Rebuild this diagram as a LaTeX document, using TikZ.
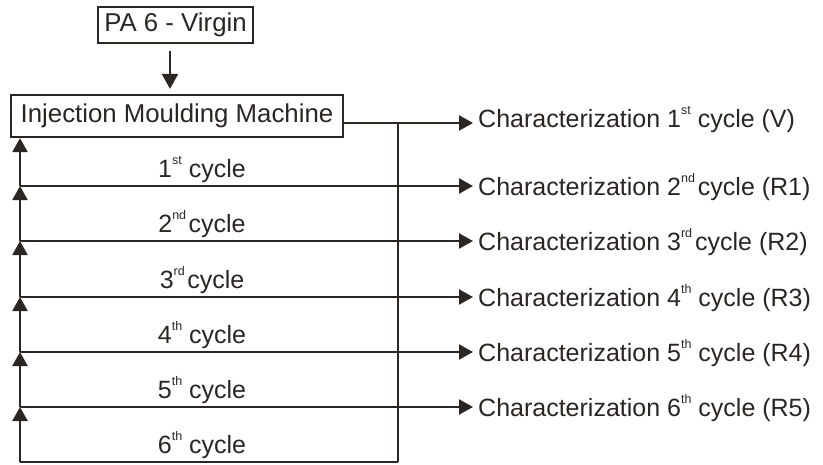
\documentclass[tikz,border=0pt]{standalone}
\usepackage{fontspec}
\setmainfont{Liberation Sans}
\usetikzlibrary{arrows.meta}
\definecolor{ink}{HTML}{2B2622}
\newcommand\sps[1]{\raisebox{0.52em}{\fontsize{12.5}{12.5}\selectfont #1}}
\begin{document}
\begin{tikzpicture}[x=1pt,y=-1pt,
 line/.style={line width=2.2pt, draw=ink},
 arr/.style={line, -{Triangle[length=14pt,width=15pt]}},
 box/.style={draw=ink, line width=2.2pt, inner sep=0pt, text=ink, font=\fontsize{25.8}{30}\selectfont},
 txt/.style={font=\fontsize{25}{30}\selectfont, inner sep=0pt, text=ink},
]
\useasboundingbox[fill=white] (0,0) rectangle (823,464);
\node[box, minimum width=155pt, minimum height=36pt] (pa) at (175.5,25) {PA 6 - Virgin};
\node[box, minimum width=332pt, minimum height=42pt] (imm) at (177,116) {Injection Moulding Machine};
\coordinate (xa) at (170,0);
\draw[arr, shorten <=7pt, shorten >=5pt, -{Triangle[length=15pt,width=16pt]}] (pa.south -| xa) -- (imm.north -| xa);
% grid coordinates
\coordinate (r0) at (398,123);
\foreach \i/\y in {1/186,2/241,3/297,4/352,5/407,6/462}{
  \coordinate (l\i) at (20,\y);
  \coordinate (r\i) at (398,\y);
}
% labels
\node[txt, anchor=base west] (c0) at (478,127) {Characterization 1\sps{st} cycle (V)};
\node[txt, anchor=base west] (c1) at (478,195) {Characterization 2\sps{nd}\hspace{0.12em}cycle (R1)};
\node[txt, anchor=base west] (c2) at (478,250) {Characterization 3\sps{rd}\hspace{0.12em}cycle (R2)};
\node[txt, anchor=base west] (c3) at (478,306) {Characterization 4\sps{th} cycle (R3)};
\node[txt, anchor=base west] (c4) at (478,361) {Characterization 5\sps{th} cycle (R4)};
\node[txt, anchor=base west] (c5) at (478,416) {Characterization 6\sps{th} cycle (R5)};
\node[txt, anchor=base] (k1) at (202,177) {1\sps{st} cycle};
\node[txt, anchor=base] (k2) at (202,232) {2\sps{nd}\hspace{0.1em}cycle};
\node[txt, anchor=base] (k3) at (202,288) {3\sps{rd}\hspace{0.1em}cycle};
\node[txt, anchor=base] (k4) at (202,343) {4\sps{th} cycle};
\node[txt, anchor=base] (k5) at (202,398) {5\sps{th} cycle};
\node[txt, anchor=base] (k6) at (202,453) {6\sps{th} cycle};
% lines
\draw[line] (imm.east |- r0) -- (r0) -- (r6);
\foreach \i in {1,...,6}{ \draw[line] (l\i) -- (r\i); }
% left up arrows
\draw[arr] (l6) -- (l5);
\draw[arr] (l5) -- (l4);
\draw[arr] (l4) -- (l3);
\draw[arr] (l3) -- (l2);
\draw[arr] (l2) -- (l1);
\draw[arr] (l1) -- (imm.south -| l1);
% right arrows
\draw[arr, shorten >=5pt] (r0) -- (r0 -| c0.west);
\draw[arr, shorten >=5pt] (r1) -- (r1 -| c1.west);
\draw[arr, shorten >=5pt] (r2) -- (r2 -| c2.west);
\draw[arr, shorten >=5pt] (r3) -- (r3 -| c3.west);
\draw[arr, shorten >=5pt] (r4) -- (r4 -| c4.west);
\draw[arr, shorten >=5pt] (r5) -- (r5 -| c5.west);
\end{tikzpicture}
\end{document}
